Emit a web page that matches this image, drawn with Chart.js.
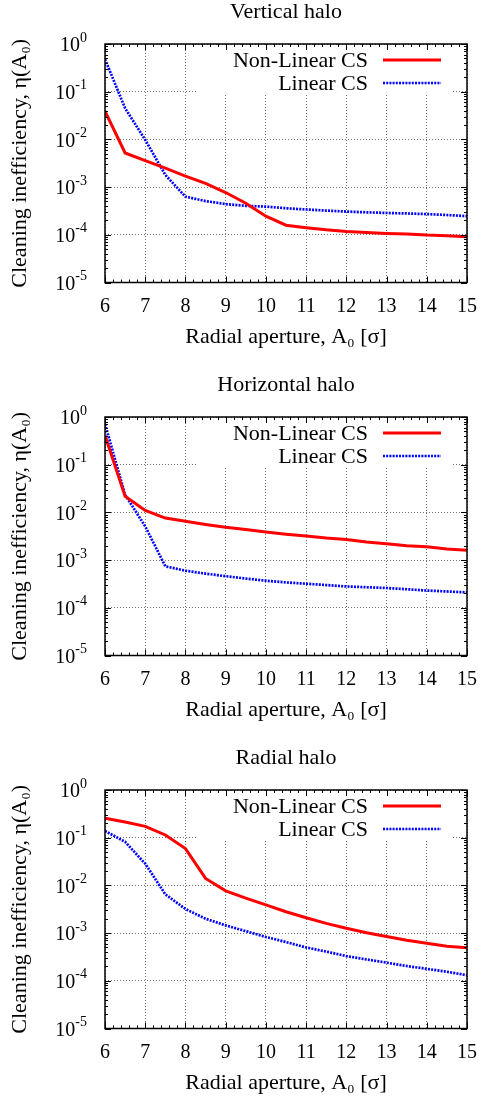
<!DOCTYPE html>
<html>
<head>
<meta charset="utf-8">
<script src="https://cdn.jsdelivr.net/npm/chart.js@4.4.1/dist/chart.umd.min.js"></script>
<style>
  html, body { margin: 0; padding: 0; background: #fff; overflow: hidden; }
  .panel { position: absolute; left: 0; width: 481px; height: 351px; }
  canvas { display: block; }
</style>
</head>
<body>
<div class="panel" style="top:0px"><canvas id="chartVertical"></canvas></div>
<div class="panel" style="top:373px"><canvas id="chartHorizontal"></canvas></div>
<div class="panel" style="top:746px"><canvas id="chartRadial"></canvas></div>
<script>
// radial aperture A0 [sigma]
const aperture = [6, 6.5, 7, 7.5, 8, 8.5, 9, 9.5, 10, 10.5, 11, 11.5, 12, 12.5, 13, 13.5, 14, 14.5, 15];

// Vertical halo
const verticalNonLinear = [0.039, 0.0052, 0.0036, 0.0025, 0.0017, 0.0012, 0.00077, 0.00046, 0.000246, 0.000159,
  0.000141, 0.000127, 0.000117, 0.000112, 0.000107, 0.000104, 0.0000985, 0.000096, 0.0000914];
const verticalLinear = [0.48, 0.045, 0.0098, 0.0018, 0.00063, 0.00051, 0.00044, 0.000405, 0.00039, 0.00036,
  0.00034, 0.000322, 0.000307, 0.000296, 0.000287, 0.00028, 0.000272, 0.00026, 0.000246];

// Horizontal halo
const horizontalNonLinear = [0.41, 0.0217, 0.011, 0.0076, 0.0065, 0.0056, 0.0049, 0.0044, 0.0039, 0.0035,
  0.0032, 0.0029, 0.0027, 0.0024, 0.0022, 0.002, 0.0019, 0.0017, 0.0016];
const horizontalLinear = [0.71, 0.0234, 0.0051, 0.00074, 0.0006, 0.00052, 0.00046, 0.00041, 0.00037, 0.00034,
  0.00032, 0.0003, 0.00028, 0.00027, 0.00026, 0.000245, 0.00023, 0.00022, 0.00021];

// Radial halo
const radialNonLinear = [0.255, 0.213, 0.173, 0.114, 0.059, 0.014, 0.0077, 0.0054, 0.0039, 0.0028,
  0.0021, 0.0016, 0.00126, 0.00102, 0.00085, 0.00071, 0.00061, 0.00053, 0.00049];
const radialLinear = [0.138, 0.082, 0.0285, 0.0065, 0.0032, 0.002, 0.00145, 0.0011, 0.00083, 0.00065,
  0.0005, 0.00041, 0.00033, 0.00028, 0.00024, 0.000204, 0.000178, 0.000155, 0.000131];

// axes
const xTicks = [6, 7, 8, 9, 10, 11, 12, 13, 14, 15];
const yTickValues = [1e-5, 1e-4, 1e-3, 1e-2, 1e-1, 1];
const yTickBase = '10';
const yTickExponents = ['-5', '-4', '-3', '-2', '-1', '0'];

const seriesNames = ['Non-Linear CS', 'Linear CS'];
const xTitle = 'Radial aperture, A₀ [σ]';
const yTitle = 'Cleaning inefficiency, η(A₀)';

const FONT = "'Liberation Serif', 'DejaVu Serif', serif";

// gnuplot style frame: opaque key, 10^n labels, inward ticks, border
const gnuFrame = {
    id: 'gnuFrame',
    beforeDatasetsDraw(chart) {
        const a = chart.chartArea;
        chart.ctx.save();
        chart.ctx.fillStyle = '#fff';
        chart.ctx.fillRect(a.right - 270, a.top + 1, 256, 50);
        chart.ctx.restore();
    },
    afterDatasetsDraw(chart) {
        const { ctx, chartArea: a, scales: { x, y } } = chart;
        ctx.save();

        // key
        ctx.font = '22px ' + FONT;
        ctx.fillStyle = '#000';
        ctx.textAlign = 'right';
        ctx.textBaseline = 'middle';
        chart.data.datasets.forEach((ds, i) => {
            const ly = a.top + 16 + i * 23;
            ctx.fillText(ds.label, a.right - 99, ly + 1);
            ctx.strokeStyle = ds.borderColor;
            ctx.lineWidth = ds.borderWidth;
            ctx.setLineDash(ds.borderDash || []);
            ctx.beginPath();
            ctx.moveTo(a.right - 84, ly);
            ctx.lineTo(a.right - 26, ly);
            ctx.stroke();
        });
        ctx.setLineDash([]);

        // y tick labels 10^n
        yTickValues.forEach((v, i) => {
            const py = y.getPixelForValue(v);
            const right = a.left - 18;
            ctx.font = '14px ' + FONT;
            const ew = ctx.measureText(yTickExponents[i]).width;
            ctx.fillText(yTickExponents[i], right, py - 6);
            ctx.font = '20px ' + FONT;
            ctx.fillText(yTickBase, right - ew, py + 2);
        });

        // tick marks (inward, mirrored)
        ctx.strokeStyle = '#000';
        ctx.lineWidth = 1;
        ctx.beginPath();
        for (let k = -5; k <= 0; k++) {
            for (let m = 1; m <= 9; m++) {
                const v = m * Math.pow(10, k);
                if (v > 1) break;
                const py = Math.round(y.getPixelForValue(v)) + 0.5;
                const len = m === 1 ? 6 : 3;
                ctx.moveTo(a.left, py); ctx.lineTo(a.left + len, py);
                ctx.moveTo(a.right, py); ctx.lineTo(a.right - len, py);
            }
        }
        for (let s = 0; s <= 45; s++) {
            const v = 6 + s * 0.2;
            const px = Math.round(x.getPixelForValue(v)) + 0.5;
            const len = s % 5 === 0 ? 6 : 3;
            ctx.moveTo(px, a.bottom); ctx.lineTo(px, a.bottom - len);
            ctx.moveTo(px, a.top); ctx.lineTo(px, a.top + len);
        }
        ctx.stroke();

        ctx.lineWidth = 1.5;
        ctx.strokeRect(a.left, a.top, a.right - a.left, a.bottom - a.top);
        ctx.restore();
    }
};

function makePanel(id, title, nonLinear, linear) {
    new Chart(document.getElementById(id), {
        type: 'line',
        data: {
            datasets: [
                {
                    label: seriesNames[0],
                    data: aperture.map((a, i) => ({ x: a, y: nonLinear[i] })),
                    borderColor: '#ff0000',
                    borderWidth: 3,
                    pointRadius: 0,
                    fill: false,
                    tension: 0
                },
                {
                    label: seriesNames[1],
                    data: aperture.map((a, i) => ({ x: a, y: linear[i] })),
                    borderColor: '#0000ff',
                    borderWidth: 2.7,
                    borderDash: [2, 1.2],
                    pointRadius: 0,
                    fill: false,
                    tension: 0
                }
            ]
        },
        options: {
            responsive: true,
            maintainAspectRatio: false,
            animation: false,
            layout: { padding: { left: 0, right: 14, top: 0, bottom: 0 } },
            plugins: {
                legend: { display: false },
                tooltip: { enabled: false },
                title: {
                    display: true,
                    fullSize: false,
                    text: title,
                    color: '#000',
                    font: { family: FONT, size: 22, weight: 'normal', lineHeight: 1 },
                    padding: { top: 1, bottom: 21 }
                }
            },
            scales: {
                x: {
                    type: 'linear',
                    min: 6,
                    max: 15,
                    afterBuildTicks: s => { s.ticks = xTicks.map(v => ({ value: v })); },
                    afterFit: s => { s.height = 68.5; s.paddingLeft = 0; s.paddingRight = 0; },
                    ticks: { color: '#000', font: { family: FONT, size: 20 }, padding: 12, maxRotation: 0 },
                    grid: { color: 'rgba(0,0,0,0.55)', lineWidth: 1, drawTicks: false },
                    border: { display: false, dash: [1, 2] },
                    title: {
                        display: true,
                        text: xTitle,
                        color: '#000',
                        font: { family: FONT, size: 22 },
                        padding: { top: 0, bottom: 1 }
                    }
                },
                y: {
                    type: 'logarithmic',
                    min: 1e-5,
                    max: 1,
                    afterBuildTicks: s => { s.ticks = yTickValues.map(v => ({ value: v })); },
                    afterFit: s => { s.width = 105; },
                    ticks: { display: false },
                    grid: { color: 'rgba(0,0,0,0.55)', lineWidth: 1, drawTicks: false },
                    border: { display: false, dash: [1, 2] },
                    title: {
                        display: true,
                        text: yTitle,
                        color: '#000',
                        font: { family: FONT, size: 22 },
                        padding: { top: 7, bottom: 0 }
                    }
                }
            }
        },
        plugins: [gnuFrame]
    });
}

makePanel('chartVertical', 'Vertical halo', verticalNonLinear, verticalLinear);
makePanel('chartHorizontal', 'Horizontal halo', horizontalNonLinear, horizontalLinear);
makePanel('chartRadial', 'Radial halo', radialNonLinear, radialLinear);
</script>
</body>
</html>
